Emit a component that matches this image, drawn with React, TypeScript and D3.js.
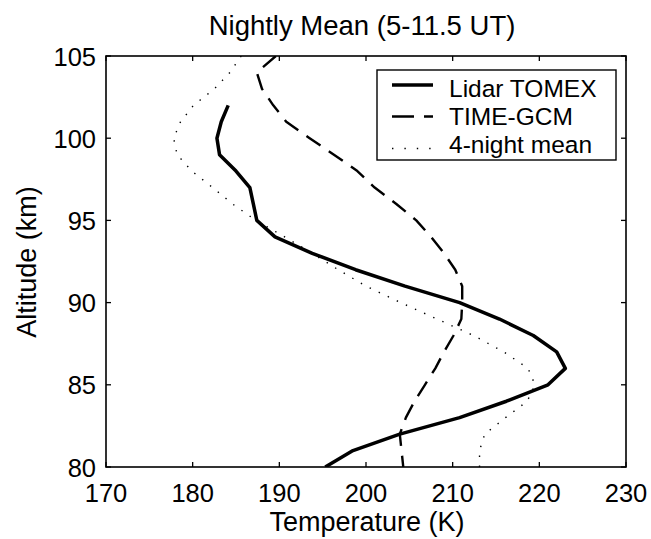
import React from "react";
import * as d3 from "d3";

const altitudes = [105, 104, 103, 102, 101, 100, 99, 98, 97, 96, 95, 94, 93, 92, 91, 90, 89, 88, 87, 86, 85, 84, 83, 82, 81, 80];

const lidarAlt = [102, 101, 100, 99, 98, 97, 96, 95, 94, 93, 92, 91, 90, 89, 88, 87, 86, 85, 84, 83, 82, 81, 80];
const lidarTemp = [184.1, 183.3, 182.8, 183.1, 185.0, 186.6, 187.0, 187.4, 189.5, 193.8, 198.8, 204.5, 210.8, 215.4, 219.3, 222.0, 223.0, 221.0, 216.2, 210.8, 203.9, 198.5, 195.3];

const gcmTemp = [189.6, 187.4, 188.0, 189.3, 190.8, 193.5, 196.3, 199.0, 201.0, 203.5, 205.8, 207.5, 209.0, 210.3, 211.1, 211.1, 211.0, 210.1, 209.0, 208.0, 206.8, 205.6, 204.6, 203.9, 204.1, 204.3];

const meanTemp = [185.6, 184.3, 182.5, 180.1, 178.6, 177.8, 178.2, 179.9, 182.3, 184.6, 187.3, 190.6, 193.8, 196.8, 200.0, 204.0, 208.2, 212.4, 215.9, 218.7, 219.5, 218.6, 216.1, 213.7, 213.1, 213.1];

const xTicks = [170, 180, 190, 200, 210, 220, 230];
const yTicks = [80, 85, 90, 95, 100, 105];

const legendLabels = ["Lidar TOMEX", "TIME-GCM", "4-night mean"];

const W = 651;
const H = 539;
const m = { left: 106, right: 626, top: 56, bottom: 467 };
const FONT = "'Liberation Sans', Arial, Helvetica, sans-serif";

export default function App() {
  const x = d3.scaleLinear().domain([170, 230]).range([m.left, m.right]);
  const y = d3.scaleLinear().domain([80, 105]).range([m.bottom, m.top]);

  const line = d3
    .line<[number, number]>()
    .x((d) => x(d[0]))
    .y((d) => y(d[1]));

  const lidarPts: [number, number][] = lidarAlt.map((a, i) => [lidarTemp[i], a]);
  const gcmPts: [number, number][] = altitudes.map((a, i) => [gcmTemp[i], a]);
  const meanPts: [number, number][] = altitudes.map((a, i) => [meanTemp[i], a]);

  const tickLen = 5;
  const styles = [
    { w: 3.5, dash: "none", legDash: "none" },
    { w: 2.4, dash: "17,10", legDash: "22,10" },
    { w: 1.4, dash: "1.4,8.6", legDash: "1.4,11" },
  ];

  const lg = { x: 377, y: 70, w: 239, h: 90 };
  const lineY = [85, 116.5, 148.5];
  const textY = [97, 125, 152.5];

  return (
    <svg
      width={W}
      height={H}
      style={{ position: "absolute", left: 0, top: 0, background: "#fff" }}
      fontFamily={FONT}
    >
      <rect x={0} y={0} width={W} height={H} fill="#fff" />
      <defs>
        <clipPath id="plotclip">
          <rect x={m.left} y={m.top} width={m.right - m.left} height={m.bottom - m.top} />
        </clipPath>
      </defs>

      {xTicks.map((t) => (
        <g key={"xt" + t}>
          <line x1={x(t)} x2={x(t)} y1={m.bottom} y2={m.bottom - tickLen} stroke="#000" strokeWidth={1.3} />
          <line x1={x(t)} x2={x(t)} y1={m.top} y2={m.top + tickLen} stroke="#000" strokeWidth={1.3} />
          <text x={x(t)} y={502} textAnchor="middle" fontSize={25.5}>
            {t}
          </text>
        </g>
      ))}
      {yTicks.map((t) => (
        <g key={"yt" + t}>
          <line x1={m.left} x2={m.left + tickLen} y1={y(t)} y2={y(t)} stroke="#000" strokeWidth={1.3} />
          <line x1={m.right} x2={m.right - tickLen} y1={y(t)} y2={y(t)} stroke="#000" strokeWidth={1.3} />
          <text x={m.left - 10} y={y(t) + 9.5} textAnchor="end" fontSize={25.5}>
            {t}
          </text>
        </g>
      ))}

      <g clipPath="url(#plotclip)" fill="none" stroke="#000" strokeLinejoin="round">
        <path d={line(meanPts) || ""} strokeWidth={styles[2].w} strokeDasharray={styles[2].dash} />
        <path d={line(gcmPts) || ""} strokeWidth={styles[1].w} strokeDasharray={styles[1].dash} />
        <path d={line(lidarPts) || ""} strokeWidth={styles[0].w} />
      </g>

      <rect
        x={m.left}
        y={m.top}
        width={m.right - m.left}
        height={m.bottom - m.top}
        fill="none"
        stroke="#000"
        strokeWidth={1.6}
      />

      <rect x={lg.x} y={lg.y} width={lg.w} height={lg.h} fill="#fff" stroke="#000" strokeWidth={1.4} />
      {legendLabels.map((l, i) => (
        <g key={l}>
          <line
            x1={392}
            x2={433}
            y1={lineY[i]}
            y2={lineY[i]}
            stroke="#000"
            strokeWidth={styles[i].w}
            strokeDasharray={styles[i].legDash}
          />
          <text x={449} y={textY[i]} fontSize={24.5}>
            {l}
          </text>
        </g>
      ))}

      <text x={362} y={35} textAnchor="middle" fontSize={27.5}>
        Nightly Mean (5-11.5 UT)
      </text>
      <text x={367} y={531} textAnchor="middle" fontSize={27}>
        Temperature (K)
      </text>
      <text transform={`translate(36,262) rotate(-90)`} textAnchor="middle" fontSize={27}>
        Altitude (km)
      </text>
    </svg>
  );
}
